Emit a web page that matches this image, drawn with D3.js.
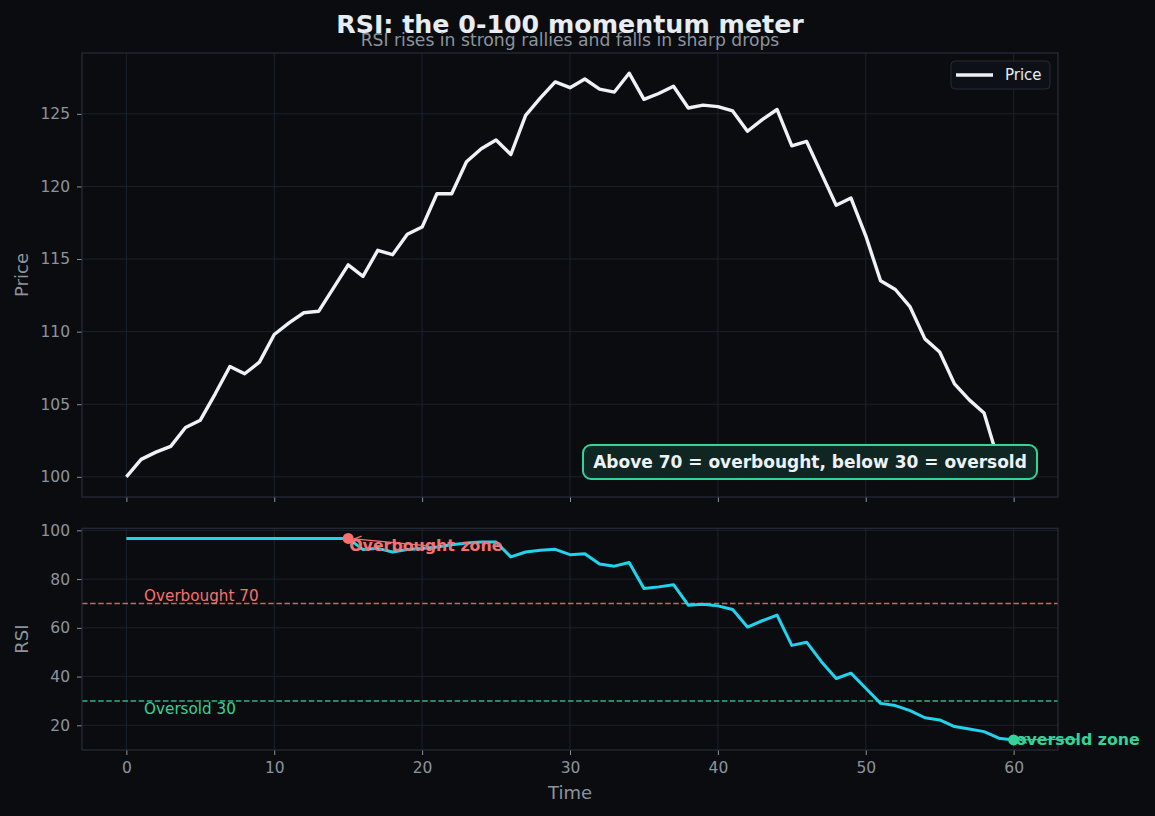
<!DOCTYPE html>
<html>
<head>
<meta charset="utf-8">
<script src="https://cdn.jsdelivr.net/npm/d3@7"></script>
<style>
  html, body { margin: 0; padding: 0; background: #0b0c10; }
  svg { display: block; font-family: "DejaVu Sans", sans-serif; }
</style>
</head>
<body>
<div id="chart"></div>
<script>
// price series, one value per time step
const price = [
  100.0, 101.2, 101.7, 102.1, 103.4, 103.9, 105.7, 107.6, 107.1, 107.9,
  109.8, 110.6, 111.3, 111.4, 113.0, 114.6, 113.8, 115.6, 115.3, 116.7,
  117.2, 119.5, 119.5, 121.7, 122.6, 123.2, 122.2, 124.9, 126.1, 127.2,
  126.8, 127.4, 126.7, 126.5, 127.8, 126.0, 126.4, 126.9, 125.4, 125.6,
  125.5, 125.2, 123.8, 124.6, 125.3, 122.8, 123.1, 120.9, 118.7, 119.2,
  116.6, 113.5, 112.9, 111.7, 109.5, 108.6, 106.4, 105.3, 104.4, 101.0,
  100.3
];
// RSI series
const rsi = [
  96.7, 96.7, 96.7, 96.7, 96.7, 96.7, 96.7, 96.7, 96.7, 96.7,
  96.7, 96.7, 96.7, 96.7, 96.7, 96.7, 92.1, 92.6, 91.1, 92.1,
  92.5, 93.2, 94.1, 94.8, 95.2, 95.2, 89.1, 91.1, 91.8, 92.2,
  90.0, 90.4, 86.2, 85.3, 86.8, 76.1, 76.8, 77.7, 69.3, 69.7,
  69.0, 67.5, 60.3, 62.9, 65.2, 52.8, 54.1, 46.1, 39.2, 41.4,
  35.2, 29.0, 28.1, 26.0, 23.1, 22.2, 19.5, 18.5, 17.4, 14.7,
  14.0
];
const levels = [
  { value: 70, label: "Overbought 70", color: "#f87171" },
  { value: 30, label: "Oversold 30", color: "#34d399" }
];
const zones = [
  { t: 15, label: "Overbought zone", color: "#f87171", dx: 1, dy: 7 },
  { t: 60, label: "oversold zone", color: "#34d399", dx: 2, dy: -1 }
];
const xTicks = [0, 10, 20, 30, 40, 50, 60];
const priceTicks = [100, 105, 110, 115, 120, 125];
const rsiTicks = [20, 40, 60, 80, 100];

const W = 1155, H = 816;
const left = 82, right = 1058;
const top1 = 53, bottom1 = 497;
const top2 = 528.3, bottom2 = 750;

const bg = "#0b0c10", grid = "#1b222c", spine = "#262e3a", muted = "#8b949e", light = "#e6edf3";

const svg = d3.select("#chart").append("svg")
  .attr("width", W).attr("height", H)
  .attr("viewBox", [0, 0, W, H]);
svg.append("rect").attr("width", W).attr("height", H).attr("fill", bg);

// matplotlib-style 5% padding
function padded(ext) {
  const p = (ext[1] - ext[0]) * 0.05;
  return [ext[0] - p, ext[1] + p];
}

const times = price.map((d, i) => i);
const x = d3.scaleLinear().domain(padded(d3.extent(times))).range([left, right]);
const yP = d3.scaleLinear().domain(padded(d3.extent(price))).range([bottom1, top1]);
const yR = d3.scaleLinear().domain(padded(d3.extent(rsi))).range([bottom2, top2]);

function panel(y, top, bottom, yTicks, showXLabels) {
  const g = svg.append("g");
  g.append("rect").attr("x", left).attr("y", top)
    .attr("width", right - left).attr("height", bottom - top).attr("fill", bg);
  // grid
  g.append("g").selectAll("line").data(xTicks).join("line")
    .attr("x1", d => x(d)).attr("x2", d => x(d))
    .attr("y1", top).attr("y2", bottom)
    .attr("stroke", grid).attr("stroke-width", 1);
  g.append("g").selectAll("line").data(yTicks).join("line")
    .attr("x1", left).attr("x2", right)
    .attr("y1", d => y(d)).attr("y2", d => y(d))
    .attr("stroke", grid).attr("stroke-width", 1);

  const xa = g.append("g").attr("transform", `translate(0,${bottom})`)
    .call(d3.axisBottom(x).tickValues(xTicks).tickSize(5).tickPadding(7)
      .tickFormat(showXLabels ? d3.format("d") : ""));
  const ya = g.append("g").attr("transform", `translate(${left},0)`)
    .call(d3.axisLeft(y).tickValues(yTicks).tickSize(5).tickPadding(7).tickFormat(d3.format("d")));
  [xa, ya].forEach(a => {
    a.select(".domain").remove();
    a.selectAll(".tick line").attr("stroke", muted).attr("stroke-width", 1);
    a.selectAll(".tick text").attr("fill", muted).attr("font-size", 15.5)
      .attr("font-family", "DejaVu Sans");
  });
  return g;
}

function frame(top, bottom) {
  svg.append("rect").attr("x", left).attr("y", top)
    .attr("width", right - left).attr("height", bottom - top)
    .attr("fill", "none").attr("stroke", spine).attr("stroke-width", 1.2);
}

// ---- top panel: price
panel(yP, top1, bottom1, priceTicks, false);
svg.append("path").datum(price)
  .attr("fill", "none").attr("stroke", "#eef1f5").attr("stroke-width", 3.4)
  .attr("stroke-linejoin", "round")
  .attr("d", d3.line().x((d, i) => x(i)).y(d => yP(d)));
frame(top1, bottom1);

svg.append("text").attr("transform", `translate(28,${(top1 + bottom1) / 2}) rotate(-90)`)
  .attr("text-anchor", "middle").attr("fill", muted).attr("font-size", 18).text("Price");

// legend
const lg = svg.append("g");
lg.append("rect").attr("x", 951).attr("y", 61).attr("width", 99).attr("height", 28).attr("rx", 4)
  .attr("fill", "#0d1117").attr("stroke", "#242c37").attr("stroke-width", 1);
lg.append("line").attr("x1", 956).attr("x2", 993).attr("y1", 75).attr("y2", 75)
  .attr("stroke", "#eef1f5").attr("stroke-width", 3.4);
lg.append("text").attr("x", 1005).attr("y", 75).attr("dy", "0.35em")
  .attr("fill", light).attr("font-size", 15).text("Price");

// info box
const info = svg.append("g");
info.append("rect").attr("x", 583).attr("y", 445).attr("width", 454).attr("height", 34).attr("rx", 8)
  .attr("fill", "#0f2622").attr("stroke", "#34d399").attr("stroke-width", 2);
info.append("text").attr("x", 810).attr("y", 462).attr("dy", "0.36em").attr("text-anchor", "middle")
  .attr("fill", "#eef1f5").attr("font-size", 17).attr("font-weight", "bold")
  .text("Above 70 = overbought, below 30 = oversold");

// ---- bottom panel: RSI
panel(yR, top2, bottom2, rsiTicks, true);

svg.append("g").selectAll("line").data(levels).join("line")
  .attr("x1", left).attr("x2", right)
  .attr("y1", d => yR(d.value)).attr("y2", d => yR(d.value))
  .attr("stroke", d => d.color).attr("stroke-opacity", 0.85).attr("stroke-width", 1.6)
  .attr("stroke-dasharray", "5.5,2.6");
svg.append("g").selectAll("text").data(levels).join("text")
  .attr("x", x(1.2))
  .attr("y", d => yR(d.value) + (d.value > 50 ? -8 : 8))
  .attr("dy", "0.35em")
  .attr("fill", d => d.color).attr("font-size", 15.2).text(d => d.label);

svg.append("path").datum(rsi)
  .attr("fill", "none").attr("stroke", "#22d3ee").attr("stroke-width", 3)
  .attr("stroke-linejoin", "round")
  .attr("d", d3.line().x((d, i) => x(i)).y(d => yR(d)));
frame(top2, bottom2);

// zone annotations
zones.forEach(z => {
  const px = x(z.t), py = yR(rsi[z.t]);
  const t = svg.append("text").attr("x", px + z.dx).attr("y", py + z.dy).attr("dy", "0.36em")
    .attr("fill", z.color).attr("font-size", 15.8).attr("font-weight", "bold").text(z.label);
  const bb = t.node().getBBox();
  const cx = bb.x + bb.width / 2, cy = bb.y + bb.height / 2;
  const ang = Math.atan2(cy - py, cx - px);
  const ex = px + Math.cos(ang) * 6, ey = py + Math.sin(ang) * 6;
  svg.append("line").attr("x1", cx).attr("y1", cy).attr("x2", ex).attr("y2", ey)
    .attr("stroke", z.color).attr("stroke-width", 1.2);
  const a1 = ang + 0.45, a2 = ang - 0.45;
  svg.append("path")
    .attr("d", `M${ex + Math.cos(a1) * 8},${ey + Math.sin(a1) * 8}L${ex},${ey}L${ex + Math.cos(a2) * 8},${ey + Math.sin(a2) * 8}`)
    .attr("fill", "none").attr("stroke", z.color).attr("stroke-width", 1.2);
  svg.append("circle").attr("cx", px).attr("cy", py).attr("r", 5.5).attr("fill", z.color);
});

svg.append("text").attr("transform", `translate(28,${(top2 + bottom2) / 2}) rotate(-90)`)
  .attr("text-anchor", "middle").attr("fill", muted).attr("font-size", 18).text("RSI");
svg.append("text").attr("x", (left + right) / 2).attr("y", 799)
  .attr("text-anchor", "middle").attr("fill", muted).attr("font-size", 18).text("Time");

// titles
svg.append("text").attr("x", 570).attr("y", 33).attr("text-anchor", "middle")
  .attr("fill", light).attr("font-size", 25.3).attr("font-weight", "bold")
  .text("RSI: the 0-100 momentum meter");
svg.append("text").attr("x", 570).attr("y", 46).attr("text-anchor", "middle")
  .attr("fill", muted).attr("font-size", 17.2)
  .text("RSI rises in strong rallies and falls in sharp drops");
</script>
</body>
</html>
